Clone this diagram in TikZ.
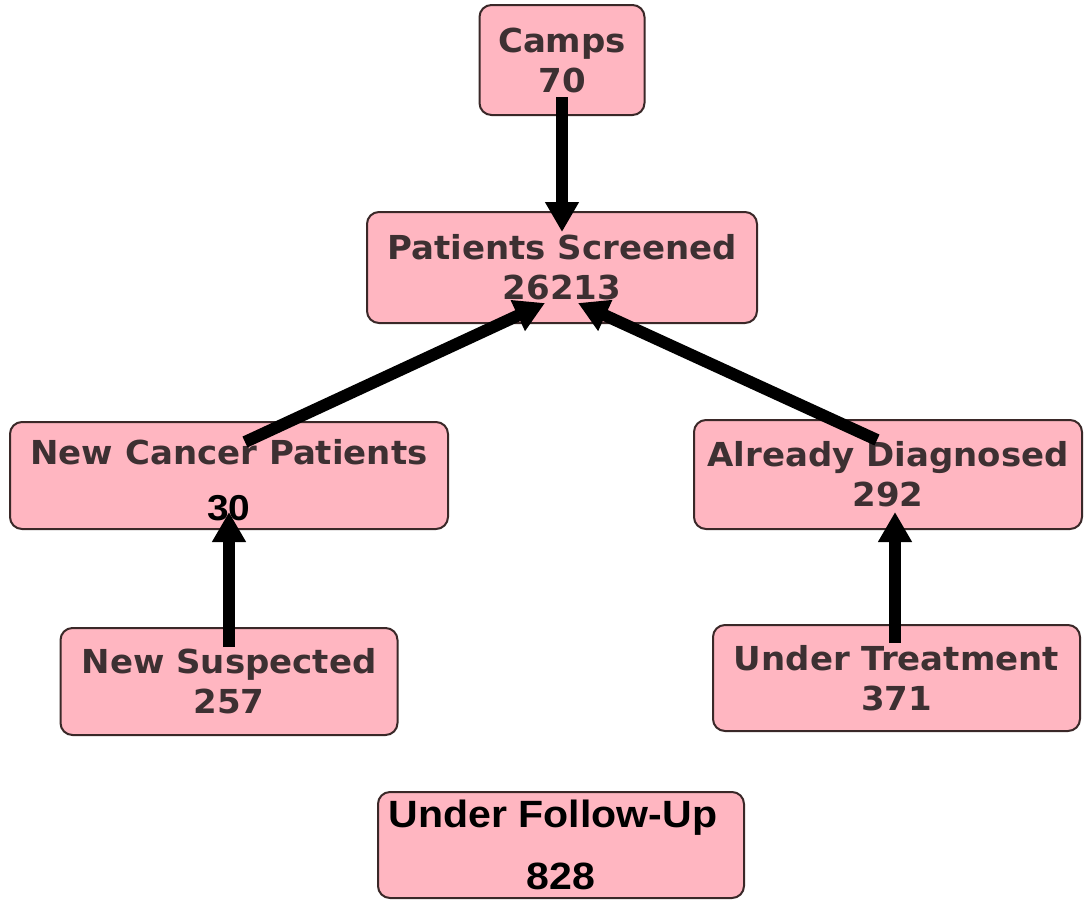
\documentclass[tikz,border=0pt]{standalone}
\usepackage{fontspec}
\usetikzlibrary{arrows.meta,calc}
\newfontfamily\dvfont[FakeStretch=1.03]{DejaVu Sans}
\newfontfamily\libfont[FakeStretch=1.08]{Liberation Sans}
\definecolor{boxfill}{HTML}{FFB6C1}
\definecolor{boxline}{HTML}{3A2828}
\definecolor{boxtext}{HTML}{3D3032}
\begin{document}
\begin{tikzpicture}[x=1pt,y=-1pt,
  box/.style={draw=boxline, line width=2pt, fill=boxfill, rounded corners=12pt,
    align=center, inner sep=0pt, text=boxtext,
    font=\dvfont\bfseries\fontsize{33}{40}\selectfont},
  ufbox/.style={box, text=black, font=\libfont\bfseries\fontsize{38}{42}\selectfont},
  conn/.style={line width=12pt, -{Triangle[length=30pt,width=32pt]}, black}]
\useasboundingbox (0,0) rectangle (1091,900);

\node[box, minimum width=165pt, minimum height=110pt] (camps) at (562,60) {Camps\\70};
\node[box, minimum width=390pt, minimum height=111pt] (ps) at (562,267.5) {Patients Screened\\26213};
\node[box, minimum width=438pt, minimum height=107pt] (ncp) at (229,475.5)
  {\rule{0pt}{34pt}New Cancer Patients\\[16pt]{\libfont\bfseries\color{black}\fontsize{36}{40}\selectfont 30}};
\node[box, minimum width=388pt, minimum height=109pt] (ad) at (888,474.5) {Already Diagnosed\\292};
\node[box, minimum width=337pt, minimum height=107pt] (ns) at (229,681.5) {New Suspected\\257};
\node[box, minimum width=367pt, minimum height=106pt] (ut) at (896.5,678) {Under Treatment\\371};
\node[ufbox, minimum width=366pt, minimum height=106pt] (uf) at (561,845)
  {\hbox{Under Follow-Up\kern16pt}\\[20pt]828};

\coordinate (campsOut) at ($(camps.center)+(0,37)$);
\coordinate (psInTop) at ($(ps.center)+(0,-35.5)$);
\coordinate (ncpOut) at ($(ncp.center)+(16,-33.5)$);
\coordinate (psInL) at ($(ps.center)+(-17,35.5)$);
\coordinate (adOut) at ($(ad.center)+(-11,-34.5)$);
\coordinate (psInR) at ($(ps.center)+(16,35.5)$);
\coordinate (nsOut) at ($(ns.center)+(0,-34.5)$);
\coordinate (ncpIn) at ($(ncp.center)+(0,36.5)$);
\coordinate (utOut) at ($(ut.center)+(-1.5,-35)$);
\coordinate (adIn) at ($(ad.center)+(7,37.5)$);

\draw[conn] (campsOut) -- (psInTop);
\draw[conn] (ncpOut) -- (psInL);
\draw[conn] (adOut) -- (psInR);
\draw[conn] (nsOut) -- (ncpIn);
\draw[conn] (utOut) -- (adIn);
\end{tikzpicture}
\end{document}
